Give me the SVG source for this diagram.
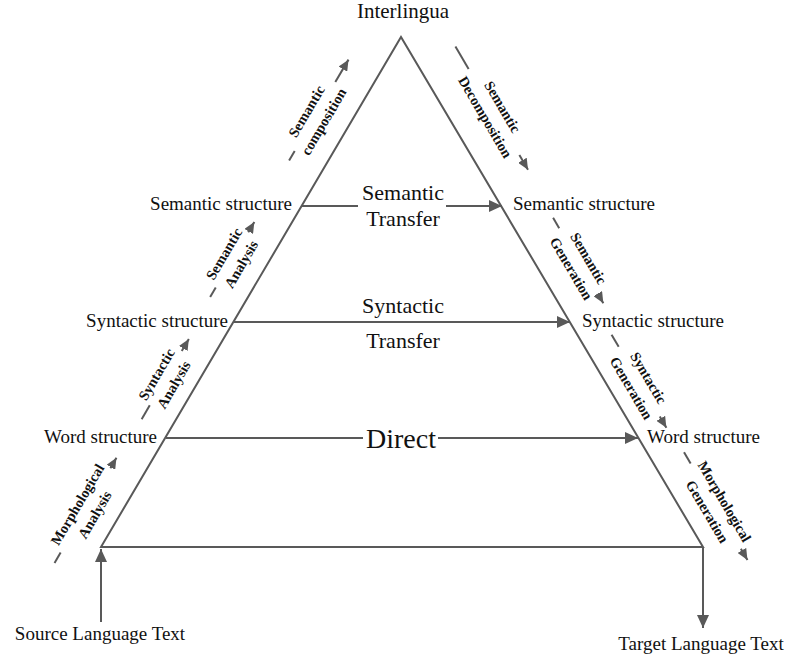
<svg xmlns="http://www.w3.org/2000/svg" width="790" height="657" viewBox="0 0 790 657">
<style>
.ln{stroke:#595959;stroke-width:2;fill:none}
.lbl{font-family:"Liberation Serif","Times New Roman",serif;font-size:19px;fill:#111}
.big{font-family:"Liberation Serif","Times New Roman",serif;font-size:22px;fill:#111;text-anchor:middle}
.rot{font-family:"Liberation Serif","Times New Roman",serif;font-size:14.5px;font-weight:bold;fill:#111;text-anchor:middle}
</style>
<defs>
<marker id="ah" markerUnits="userSpaceOnUse" markerWidth="14" markerHeight="12" refX="13" refY="6" orient="auto">
<path d="M0,0 L13,6 L0,12 z" fill="#595959"/>
</marker>
<marker id="sh" markerUnits="userSpaceOnUse" markerWidth="12" markerHeight="10" refX="11" refY="5" orient="auto">
<path d="M0,0 L11,5 L0,10 z" fill="#595959"/>
</marker>
</defs>
<rect width="790" height="657" fill="#fff"/>

<g id="triangle">
<path class="ln" d="M101,547 L401,37 L703,547 Z"/>
</g>

<g id="connectors">
<line class="ln" x1="302" y1="206" x2="358" y2="206"/>
<line class="ln" x1="446" y1="206" x2="502" y2="206" marker-end="url(#ah)"/>
<line class="ln" x1="234" y1="322" x2="570" y2="322" marker-end="url(#ah)"/>
<line class="ln" x1="166" y1="438" x2="363" y2="438"/>
<line class="ln" x1="438" y1="438" x2="638" y2="438" marker-end="url(#ah)"/>
<line class="ln" x1="101" y1="622" x2="101" y2="549" marker-end="url(#ah)"/>
<line class="ln" x1="703" y1="547" x2="703" y2="628" marker-end="url(#ah)"/>
</g>

<g id="interlingua"><text class="lbl" x="403" y="18" text-anchor="middle" style="font-size:21px">Interlingua</text></g>
<g id="sem-left"><text class="lbl" x="292" y="210" text-anchor="end">Semantic structure</text></g>
<g id="sem-right"><text class="lbl" x="513" y="210">Semantic structure</text></g>
<g id="syn-left"><text class="lbl" x="228" y="327" text-anchor="end">Syntactic structure</text></g>
<g id="syn-right"><text class="lbl" x="582" y="327">Syntactic structure</text></g>
<g id="word-left"><text class="lbl" x="157" y="443" text-anchor="end">Word structure</text></g>
<g id="word-right"><text class="lbl" x="647" y="443">Word structure</text></g>
<g id="source"><text class="lbl" x="100" y="640" text-anchor="middle">Source Language Text</text></g>
<g id="target"><text class="lbl" x="701" y="650" text-anchor="middle">Target Language Text</text></g>

<g id="semantic-transfer"><text class="big" x="403" y="200">Semantic</text><text class="big" x="403" y="226">Transfer</text></g>
<g id="syntactic-transfer"><text class="big" x="403" y="313">Syntactic</text><text class="big" x="403" y="348">Transfer</text></g>
<g id="direct"><text class="big" x="401" y="448" style="font-size:28px">Direct</text></g>

<g id="semantic-composition" transform="translate(315,116.5) rotate(-59.5)">
<line class="ln" x1="-51" y1="0" x2="-40" y2="0"/>
<line class="ln" x1="40" y1="0" x2="66" y2="0" marker-end="url(#sh)"/>
<text class="rot" x="0" y="-5">Semantic</text><text class="rot" x="0" y="15">composition</text>
</g>
<g id="semantic-analysis" transform="translate(232.5,259) rotate(-59.5)">
<line class="ln" x1="-44" y1="0" x2="-33" y2="0"/>
<line class="ln" x1="31" y1="0" x2="43" y2="0" marker-end="url(#sh)"/>
<text class="rot" x="0" y="-5">Semantic</text><text class="rot" x="0" y="15">Analysis</text>
</g>
<g id="syntactic-analysis" transform="translate(165,379.5) rotate(-59.5)">
<line class="ln" x1="-46" y1="0" x2="-30" y2="0"/>
<line class="ln" x1="33" y1="0" x2="47" y2="0" marker-end="url(#sh)"/>
<text class="rot" x="0" y="-5">Syntactic</text><text class="rot" x="0" y="15">Analysis</text>
</g>
<g id="morphological-analysis" transform="translate(86,509.5) rotate(-59.5)">
<line class="ln" x1="-62" y1="0" x2="-50" y2="0"/>
<line class="ln" x1="48" y1="0" x2="60" y2="0" marker-end="url(#sh)"/>
<text class="rot" x="0" y="-5">Morphological</text><text class="rot" x="0" y="15">Analysis</text>
</g>
<g id="semantic-decomposition" transform="translate(494,112) rotate(59.5)">
<line class="ln" x1="-76" y1="0" x2="-50" y2="0"/>
<line class="ln" x1="50" y1="0" x2="67" y2="0" marker-end="url(#sh)"/>
<text class="rot" x="0" y="-5">Semantic</text><text class="rot" x="0" y="15">Decomposition</text>
</g>
<g id="semantic-generation" transform="translate(580,263.5) rotate(59.5)">
<line class="ln" x1="-53" y1="0" x2="-41" y2="0"/>
<line class="ln" x1="35" y1="0" x2="46" y2="0" marker-end="url(#sh)"/>
<text class="rot" x="0" y="-5">Semantic</text><text class="rot" x="0" y="15">Generation</text>
</g>
<g id="syntactic-generation" transform="translate(640,383) rotate(59.5)">
<line class="ln" x1="-56" y1="0" x2="-42" y2="0"/>
<line class="ln" x1="39" y1="0" x2="52" y2="0" marker-end="url(#sh)"/>
<text class="rot" x="0" y="-5">Syntactic</text><text class="rot" x="0" y="15">Generation</text>
</g>
<g id="morphological-generation" transform="translate(716,506.5) rotate(59.5)">
<line class="ln" x1="-63" y1="0" x2="-50" y2="0"/>
<line class="ln" x1="49" y1="0" x2="62" y2="0" marker-end="url(#sh)"/>
<text class="rot" x="0" y="-5">Morphological</text><text class="rot" x="0" y="15">Generation</text>
</g>
</svg>
